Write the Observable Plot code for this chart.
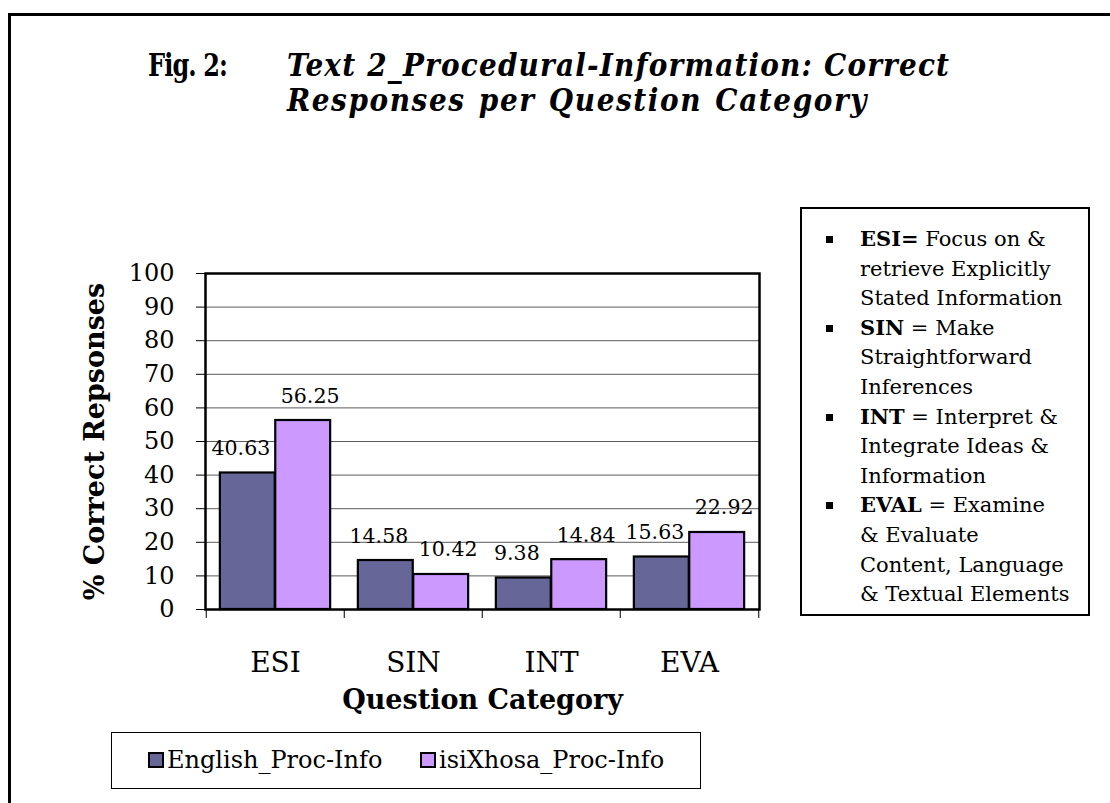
<!DOCTYPE html>
<html>
<head>
<meta charset="utf-8">
<script src="https://cdn.jsdelivr.net/npm/d3@7"></script>
<script src="https://cdn.jsdelivr.net/npm/@observablehq/plot@0.6"></script>
<style>
  html, body { margin: 0; padding: 0; background: #fff; }
  #root { position: relative; width: 1110px; height: 803px; overflow: hidden; background: #fff; font-family: "DejaVu Serif", serif; color: #000; }
  #outer { position: absolute; left: 8px; top: 13px; width: 1300px; height: 1000px; border-left: 3px solid #000; border-top: 3px solid #000; box-sizing: border-box; }
  .title { position: absolute; font-family: "DejaVu Serif Condensed", "DejaVu Serif", serif; font-stretch: condensed; font-weight: bold; font-size: 31px; line-height: 36px; white-space: nowrap; }
  .title.fig { letter-spacing: -1px; transform: scaleX(0.86); transform-origin: left center; }
  .title.it { font-style: italic; letter-spacing: 1.2px; }
  .title.l2 { letter-spacing: 1.6px; word-spacing: 2px; }
  #plot { position: absolute; left: 0; top: 240px; }
  #gloss { position: absolute; left: 800px; top: 207px; width: 290px; height: 409px; border: 2px solid #000; box-sizing: border-box; background: #fff; }
  .gline { position: absolute; left: 58px; font-size: 21px; line-height: 22px; white-space: nowrap; }
  .bullet { position: absolute; left: 24px; width: 7px; height: 7px; background: #000; }
  #legend { position: absolute; left: 111px; top: 732px; width: 590px; height: 57px; border: 1.5px solid #000; box-sizing: border-box; background: #fff; }
  .litem { position: absolute; top: 14px; font-size: 24px; line-height: 26px; white-space: nowrap; }
  .lsw { display: inline-block; width: 12px; height: 12px; border: 2px solid #000; margin-right: 3px; vertical-align: 0px; }
  g[aria-label="y-axis label"] text { font-weight: bold; font-size: 27px; }
  g[aria-label="x-axis label"] text { font-weight: bold; font-size: 27px; }
</style>
</head>
<body>
<div id="root">
  <div id="outer"></div>
  <div id="plot"></div>
  <div id="gloss"></div>
  <div id="legend"></div>
</div>
<script>
// ---- data ----
const categories = ["ESI", "SIN", "INT", "EVA"];
const seriesNames = ["English_Proc-Info", "isiXhosa_Proc-Info"];
const englishValues = [40.63, 14.58, 9.38, 15.63];
const xhosaValues = [56.25, 10.42, 14.84, 22.92];
const yTicks = [0, 10, 20, 30, 40, 50, 60, 70, 80, 90, 100];
const seriesColors = ["#666699", "#CC99FF"];
const titleLabel = "Fig. 2:";
const titleLines = ["Text 2_Procedural-Information: Correct", "Responses per Question Category"];
const yLabel = "% Correct Repsonses";
const xLabel = "Question Category";
const glossaryTerms = ["ESI=", "SIN", "INT", "EVAL"];
const glossaryLines = [
  [" Focus on &", "retrieve Explicitly", "Stated Information"],
  [" = Make", "Straightforward", "Inferences"],
  [" = Interpret &", "Integrate Ideas &", "Information"],
  [" = Examine", "& Evaluate", "Content, Language", "& Textual Elements"]
];

const root = document.getElementById("root");

// ---- title ----
function addTitle(text, left, top, cls) {
  const d = document.createElement("div");
  d.className = "title " + cls;
  d.style.left = left + "px";
  d.style.top = top + "px";
  d.textContent = text;
  root.appendChild(d);
}
addTitle(titleLabel, 148, 47, "fig");
addTitle(titleLines[0], 287, 47, "it");
addTitle(titleLines[1], 287, 82, "it l2");

// ---- chart ----
const data = [];
categories.forEach((c, i) => {
  data.push({cat: c, series: seriesNames[0], value: englishValues[i]});
  data.push({cat: c, series: seriesNames[1], value: xhosaValues[i]});
});

const W = 800, H = 480, ML = 205, MR = 41, MT = 33, MB = 111;
const bw = (W - ML - MR) / categories.length;
const isEng = d => d.series === seriesNames[0];

const chart = Plot.plot({
  width: W,
  height: H,
  marginLeft: ML,
  marginRight: MR,
  marginTop: MT,
  marginBottom: MB,
  style: {fontFamily: "DejaVu Serif, serif", fontSize: "20px", overflow: "visible", background: "transparent", color: "#000"},
  x: {domain: categories, padding: 0},
  y: {domain: [0, 100]},
  color: {domain: seriesNames, range: seriesColors},
  marks: [
    Plot.ruleY(yTicks, {stroke: "#5a5a5a", strokeWidth: 1}),
    Plot.barY(data.filter(isEng), {x: "cat", y: "value", fill: "series", stroke: "#000", strokeWidth: 2.2, insetLeft: 0.1 * bw, insetRight: 0.5 * bw}),
    Plot.barY(data.filter(d => !isEng(d)), {x: "cat", y: "value", fill: "series", stroke: "#000", strokeWidth: 2.2, insetLeft: 0.5 * bw, insetRight: 0.1 * bw}),
    Plot.text(data.filter(isEng), {x: "cat", y: "value", text: d => d.value.toFixed(2), dx: -0.25 * bw, dy: -18, lineAnchor: "bottom", fontSize: 20.5, fill: "#000"}),
    Plot.text(data.filter(d => !isEng(d)), {x: "cat", y: "value", text: d => d.value.toFixed(2), dx: 0.25 * bw, dy: -18, lineAnchor: "bottom", fontSize: 20.5, fill: "#000"}),
    Plot.frame({stroke: "#000", strokeWidth: 2.5}),
    Plot.axisY({ticks: yTicks, tickSize: 9, tickPadding: 22, fontSize: 24, label: yLabel, labelAnchor: "center", labelArrow: "none", labelOffset: 121, stroke: "#000"}),
    Plot.axisX({tickSize: 0, tickPadding: 43, fontSize: 28, label: xLabel, labelAnchor: "center", labelArrow: "none", labelOffset: 99}),
    Plot.axisX({ticks: categories, tickSize: 9, tickFormat: () => "", dx: -bw / 2, label: null, stroke: "#000"}),
    Plot.axisX({ticks: categories.slice(-1), tickSize: 9, tickFormat: () => "", dx: bw / 2, label: null, stroke: "#000"})
  ]
});
document.getElementById("plot").appendChild(chart);

// ---- glossary box ----
const gloss = document.getElementById("gloss");
let lineIdx = 0;
const lh = 29.6, firstTop = 19;
glossaryTerms.forEach((term, i) => {
  const b = document.createElement("div");
  b.className = "bullet";
  b.style.top = (firstTop + lineIdx * lh + 8) + "px";
  gloss.appendChild(b);
  glossaryLines[i].forEach((txt, j) => {
    const l = document.createElement("div");
    l.className = "gline";
    l.style.top = (firstTop + lineIdx * lh) + "px";
    if (j === 0) {
      const s = document.createElement("b");
      s.textContent = term;
      l.appendChild(s);
      l.appendChild(document.createTextNode(txt));
    } else {
      l.textContent = txt;
    }
    gloss.appendChild(l);
    lineIdx++;
  });
});

// ---- bottom legend ----
const legend = document.getElementById("legend");
const legendLefts = [36, 308];
seriesNames.forEach((name, i) => {
  const it = document.createElement("div");
  it.className = "litem";
  it.style.left = legendLefts[i] + "px";
  const sw = document.createElement("span");
  sw.className = "lsw";
  sw.style.background = seriesColors[i];
  it.appendChild(sw);
  it.appendChild(document.createTextNode(name));
  legend.appendChild(it);
});
</script>
</body>
</html>
